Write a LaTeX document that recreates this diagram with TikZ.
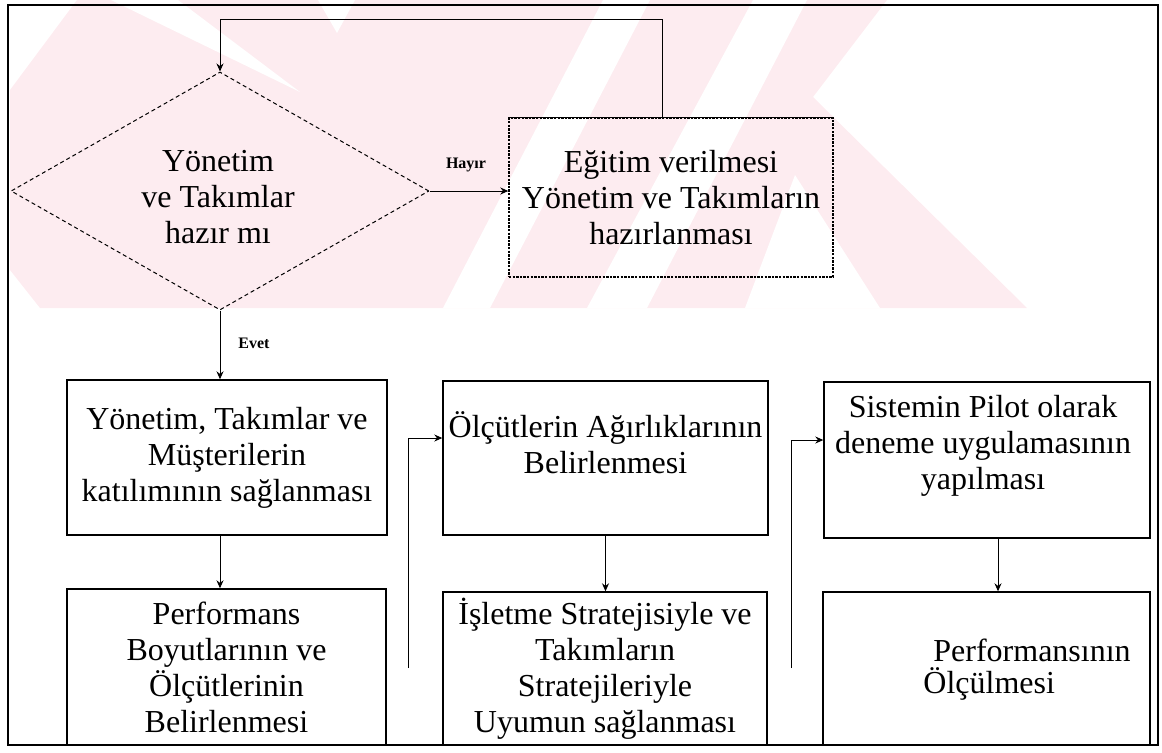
\documentclass[tikz,border=0pt]{standalone}
\usepackage{fontspec}
\setmainfont{Liberation Serif}
\usetikzlibrary{arrows.meta,shapes.geometric}
\definecolor{wmark}{RGB}{253,236,240}
\tikzset{
    stepbox/.style={draw, line width=0.7pt, inner sep=0pt, align=center, font=\fontsize{16}{18}\selectfont},
    decision/.style={draw, shape=diamond, aspect=1.75, line width=0.5pt, dash pattern=on 2pt off 1.5pt,
        inner sep=0pt, minimum width=209pt, minimum height=119pt},
    txt/.style={inner sep=0pt, align=center, font=\fontsize{16}{18}\selectfont},
    flow/.style={line width=0.5pt, -{Stealth[length=4pt,width=3.5pt]}},
    tag/.style={inner sep=0pt, font=\fontsize{8}{9}\selectfont\bfseries}
}
\begin{document}
\begin{tikzpicture}[
            x={(0.5pt,0pt)},
            y={(0pt,-0.5pt)}
        ]
        \useasboundingbox (0,0) rectangle (1162,752);
        \fill[wmark] (77,0) -- (887,0) -- (813,97) -- (1027,308) -- (40,308) -- (10,270) -- (10,90) -- cycle;
        \fill[white] (111,0) -- (178,0) -- (300,92) -- cycle;
        \fill[white] (318,0) -- (355,0) -- (337,33) -- cycle;
        \fill[white] (603,0) -- (650,0) -- (490,308) -- (443,308) -- cycle;
        \fill[white] (753,0) -- (807,0) -- (647,308) -- (587,308) -- cycle;
        \fill[white] (745,308) -- (880,308) -- (795,175) -- cycle;

        \coordinate (FA) at (8,5);
        \coordinate (FB) at (1158,745);
        \draw[line width=1.1pt] (FA) rectangle (FB);

        \node[decision] (ready) at (220,191) {};
        \node[txt] (readyt) at (218,197) {Yönetim\\ve Takımlar\\hazır mı};
        \node[stepbox, minimum width=162pt, minimum height=79.5pt, dash pattern=on 1.2pt off 0.6pt]
            (train) at (671,197.5) {Eğitim verilmesi\\Yönetim ve Takımların\\hazırlanması};
        \draw[line width=0.7pt] (train.north west) -- (train.north east);
        \node[stepbox, minimum width=160pt, minimum height=77.5pt] (b1) at (227,457.5)
            {Yönetim, Takımlar ve\\Müşterilerin\\katılımının sağlanması};
        \node[stepbox, minimum width=159.5pt, minimum height=78pt] (b2) at (226.5,667)
            {Performans\\Boyutlarının ve\\Ölçütlerinin\\Belirlenmesi};
        \node[stepbox, minimum width=162.5pt, minimum height=77pt] (b3) at (605.5,458) {};
        \node[txt] (b3t) at (605.5,443) {Ölçütlerin Ağırlıklarının\\Belirlenmesi};
        \node[stepbox, minimum width=162pt, minimum height=76.5pt] (b4) at (605,668.5)
            {İşletme Stratejisiyle ve\\Takımların\\Stratejileriyle\\Uyumun sağlanması};
        \node[stepbox, minimum width=163pt, minimum height=78pt] (b5) at (987,460) {};
        \node[txt] (b5t) at (983,446) {Sistemin Pilot olarak\\deneme uygulamasının\\yapılması};
        \node[stepbox, minimum width=163.5pt, minimum height=76.5pt] (b6) at (986.5,668.5) {};
        \node[txt, anchor=west] (b6a) at (933,650) {Performansının};
        \node[txt, anchor=west] (b6b) at (923,684) {Ölçülmesi};

        \coordinate (looptop) at (0,19);
        \coordinate (c1) at (408,668);
        \coordinate (c2) at (791,668);

        \draw[flow] ([xshift=-4.5pt]train.north) |- (ready.north |- looptop) -- (ready.north);
        \draw[flow] (ready.east) -- (ready.east -| train.west);
        \node[tag] (no) at (466,165) {Hayır};
        \draw[flow] (ready.south) -- (ready.south |- b1.north);
        \node[tag] (yes) at (254,343) {Evet};
        \draw[flow] (b1.south -| ready.south) -- (ready.south |- b2.north);
        \draw[flow] (c1) |- ([yshift=10pt]b3.west);
        \draw[flow] (b3.south) -- (b3.south |- b4.north);
        \draw[flow] (c2) |- ([yshift=10pt]b5.west);
        \draw[flow] ([xshift=5.5pt]b5.south) -- ([xshift=5.5pt]b5.south |- b6.north);
    \end{tikzpicture}
\end{document}
